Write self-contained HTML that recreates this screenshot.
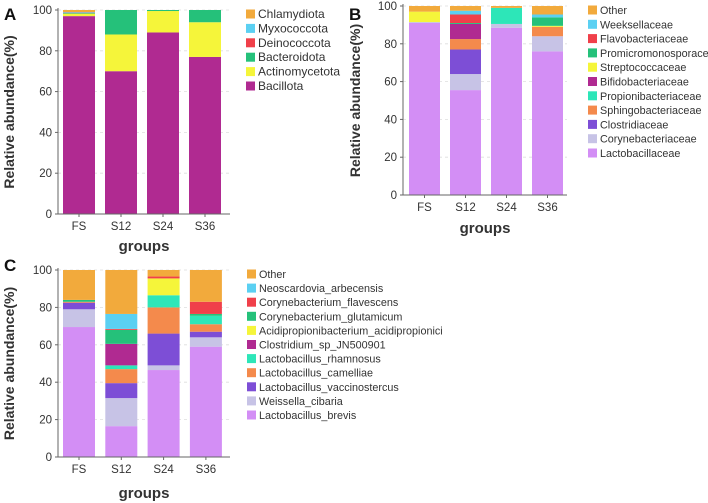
<!DOCTYPE html>
<html><head><meta charset="utf-8"><style>
body{margin:0;background:#fff;}
svg{display:block;font-family:"Liberation Sans",Arial,sans-serif;}
</style></head><body>
<svg id="fig" width="708" height="503" viewBox="0 0 708 503"></svg>
<script>
const groups=["FS","S12","S24","S36"];
const ticks=[0,20,40,60,80,100];
// Panel A (bottom to top)
const seriesA=["Bacillota","Actinomycetota","Bacteroidota","Deinococcota","Myxococcota","Chlamydiota"];
const colorsA=["#b02a91","#f5f53a","#25c17a","#f0404a","#5bd0f2","#f2aa3c"];
const bacillota=[97,70,89,77];
const actinomycetota=[1.2,18,10.5,17];
const bacteroidota=[0.3,12,0.5,6];
const deinococcota=[0.2,0,0,0];
const myxococcota=[0.3,0,0,0];
const chlamydiota=[1,0,0,0];
const valuesA=[bacillota,actinomycetota,bacteroidota,deinococcota,myxococcota,chlamydiota];
// Panel B
const seriesB=["Lactobacillaceae","Corynebacteriaceae","Clostridiaceae","Sphingobacteriaceae","Propionibacteriaceae","Bifidobacteriaceae","Streptococcaceae","Promicromonosporacea","Flavobacteriaceae","Weeksellaceae","Other"];
const colorsB=["#d38ef5","#c7c3e6","#7d4ed6","#f48a4c","#2de6b8","#b02a91","#f5f53a","#25c17a","#f0404a","#5bd0f2","#f2aa3c"];
const lactobacillaceae=[91,55.5,88.5,76];
const corynebacteriaceae=[0.5,8.5,2,8];
const clostridiaceae=[0,13,0,0];
const sphingobacteriaceae=[0,5.5,0,5];
const propionibacteriaceae=[0,0,8.5,0];
const bifidobacteriaceae=[0,8,0,0];
const streptococcaceae=[5.5,0,0,0.5];
const promicromonosporacea=[0,0.5,0,4.5];
const flavobacteriaceae=[0,4.5,0,0];
const weeksellaceae=[0,2,0,1.5];
const otherB=[3,2.5,1,4.5];
const valuesB=[lactobacillaceae,corynebacteriaceae,clostridiaceae,sphingobacteriaceae,propionibacteriaceae,bifidobacteriaceae,streptococcaceae,promicromonosporacea,flavobacteriaceae,weeksellaceae,otherB];
// Panel C
const seriesC=["Lactobacillus_brevis","Weissella_cibaria","Lactobacillus_vaccinostercus","Lactobacillus_camelliae","Lactobacillus_rhamnosus","Clostridium_sp_JN500901","Acidipropionibacterium_acidipropionici","Corynebacterium_glutamicum","Corynebacterium_flavescens","Neoscardovia_arbecensis","Other"];
const colorsC=["#d38ef5","#c7c3e6","#7d4ed6","#f48a4c","#2de6b8","#b02a91","#f5f53a","#25c17a","#f0404a","#5bd0f2","#f2aa3c"];
const brevis=[69.5,16.5,46.5,59];
const cibaria=[9.5,15,2.5,5];
const vaccinostercus=[3.5,8,17,3];
const camelliae=[0.5,7.5,14,4];
const rhamnosus=[0,2,6.5,4.5];
const clostridiumSp=[0,11.5,0,0];
const acidipropionici=[0,0,9,0];
const glutamicum=[1,7.5,0,1];
const flavescens=[0,0.5,1,6.5];
const neoscardovia=[0,8,0,0];
const otherC=[16,23.5,3.5,17];
const valuesC=[brevis,cibaria,vaccinostercus,camelliae,rhamnosus,clostridiumSp,acidipropionici,glutamicum,flavescens,neoscardovia,otherC];

const NS="http://www.w3.org/2000/svg";
const svg=document.getElementById("fig");
function mk(tag,attrs,parent,text){const e=document.createElementNS(NS,tag);for(const k in attrs)e.setAttribute(k,attrs[k]);if(text!==undefined)e.textContent=text;(parent||svg).appendChild(e);return e;}

function panel(p){
  const g=mk("g",{});
  
  
  const y=v=>p.y0-(v/100)*(p.y0-p.y100);
  const lt=mk("text",{x:p.labX,y:p.labY,"font-size":17,"font-weight":"bold",fill:"#111"},g,p.id);
  
  
  ticks.forEach(t=>{
    if(t>0){const gl=mk("line",{x1:p.ax,x2:p.ax+p.w,y1:y(t),y2:y(t),stroke:"#ddd","stroke-dasharray":"3,3","stroke-width":0.8},g);
    
    }
    const tl=mk("text",{x:p.ax-6,y:y(t)+4,"font-size":11.5,"text-anchor":"end",fill:"#333"},g,String(t));
    
    
    mk("line",{x1:p.ax-3,x2:p.ax,y1:y(t),y2:y(t),stroke:"#666"},g);
  });
  groups.forEach((gr,i)=>{
    const bx=p.bx0+i*p.step;
    let acc=0;
    p.values.forEach((arr,s)=>{
      const v=arr[i]; if(v<=0)return;
      const r=mk("rect",{x:bx,y:y(acc+v),width:p.bw,height:y(acc)-y(acc+v),fill:p.colors[s]},g);
      
      
      acc+=v;
    });
    const xl=mk("text",{x:bx+p.bw/2,y:p.y0+16,"font-size":11.5,"text-anchor":"middle",fill:"#333"},g,gr);
    
    
    mk("line",{x1:bx+p.bw/2,x2:bx+p.bw/2,y1:p.y0,y2:p.y0+3,stroke:"#666"},g);
  });
  mk("line",{x1:p.ax,x2:p.ax,y1:p.y100-2,y2:p.y0,stroke:"#666","stroke-width":1},g);
  mk("line",{x1:p.ax-3,x2:p.ax+p.w,y1:p.y0,y2:p.y0,stroke:"#666","stroke-width":1},g);
  const cy=(p.y0+p.y100)/2;
  const yt=mk("text",{x:p.ytX,y:cy,"font-size":14,"font-weight":"bold","text-anchor":"middle",fill:"#333",transform:`rotate(-90 ${p.ytX} ${cy})`},g,"Relative abundance(%)");
  
  
  const xt=mk("text",{x:p.ax+p.w/2,y:p.xtY,"font-size":15,"font-weight":"bold","text-anchor":"middle",fill:"#333"},g,"groups");
  
  
  const n=p.series.length;
  for(let k=0;k<n;k++){
    const s=n-1-k;
    const ly=p.legY+k*p.legStep;
    const le=mk("g",{},g);
    
    
    mk("rect",{x:p.legX,y:ly-4.5,width:9,height:9,fill:p.colors[s]},le);
    mk("text",{x:p.legX+12,y:ly+4,"font-size":p.legFont,fill:"#333"},le,p.series[s]);
  }
}
panel({id:"A",ax:58,w:172,y0:214,y100:10,bx0:63,step:42,bw:32,values:valuesA,colors:colorsA,series:seriesA,labX:4,labY:20,ytX:14,xtY:251,legX:246,legY:14,legStep:14.4,legFont:12});
panel({id:"B",ax:403,w:164,y0:195,y100:6,bx0:409,step:41,bw:31,values:valuesB,colors:colorsB,series:seriesB,labX:349,labY:20,ytX:360,xtY:233,legX:588,legY:10,legStep:14.3,legFont:10.8});
panel({id:"C",ax:58,w:172,y0:457,y100:270,bx0:63,step:42.3,bw:32,values:valuesC,colors:colorsC,series:seriesC,labX:4,labY:271,ytX:14,xtY:498,legX:247,legY:274,legStep:14.1,legFont:10.8});
</script>
</body></html>
